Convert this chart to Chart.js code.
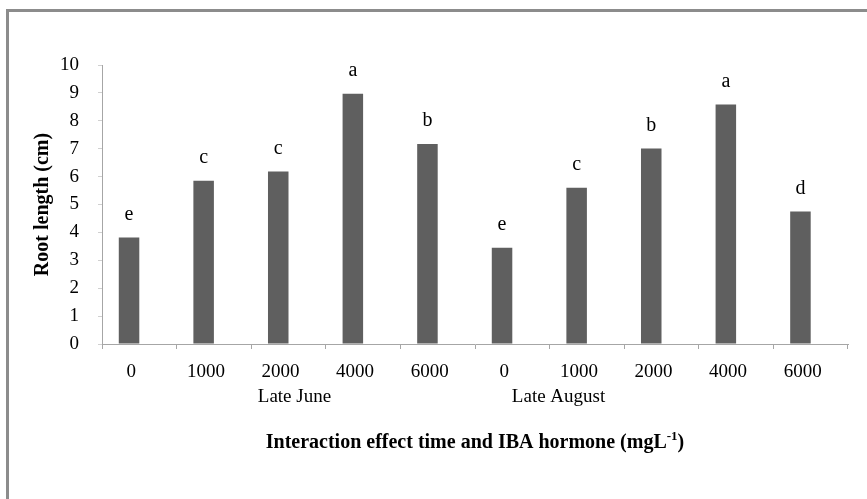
<!DOCTYPE html>
<html>
<head>
<meta charset="utf-8">
<script src="https://cdn.jsdelivr.net/npm/chart.js@4/dist/chart.umd.min.js"></script>
<style>
  html, body { margin: 0; padding: 0; background: #fff; }
  #wrap { width: 867px; height: 499px; }
</style>
</head>
<body>
<div id="wrap"><canvas id="rootChart" width="867" height="499"></canvas></div>
<script>
'use strict';

// data
var doses = ['0', '1000', '2000', '4000', '6000', '0', '1000', '2000', '4000', '6000'];
var rootLength = [3.82, 5.85, 6.18, 8.97, 7.17, 3.45, 5.6, 7.01, 8.58, 4.75];
var letters = ['e', 'c', 'c', 'a', 'b', 'e', 'c', 'b', 'a', 'd'];
var groupLabels = ['Late June', 'Late August'];
var groupLabelAt = [2.08, 5.62];
var yTicks = [0, 1, 2, 3, 4, 5, 6, 7, 8, 9, 10];

var serif = '"Liberation Serif", "Times New Roman", serif';
var axisGray = '#a6a6a6';
var barColor = '#5f5f5f';

//frame, letters over bars, group labels and x title
var extras = {
    id: 'extras',
    beforeDraw: function(chart) {
        var ctx = chart.ctx;
        ctx.save();
        ctx.fillStyle = '#8c8c8c';
        ctx.fillRect(6, 9, 861, 3);
        ctx.fillRect(6, 9, 3, 490);
        ctx.restore();
    },
    afterDraw: function(chart) {
        var ctx = chart.ctx;
        var x = chart.scales.x;
        var meta = chart.getDatasetMeta(0);
        ctx.save();
        ctx.fillStyle = '#000';
        ctx.textAlign = 'center';
        ctx.textBaseline = 'middle';

        ctx.font = '20px ' + serif;
        meta.data.forEach(function(bar, i) {
            ctx.fillText(letters[i], bar.x, bar.y - 23);
        });

        ctx.font = '19px ' + serif;
        groupLabels.forEach(function(lbl, i) {
            ctx.fillText(lbl, x.getPixelForValue(groupLabelAt[i]), 397);
        });

        // x title with superscript
        var main = 'Interaction effect time and IBA hormone (mgL';
        var sup = '-1';
        var end = ')';
        var bold = 'bold 20px ' + serif;
        var small = 'bold 13px ' + serif;
        ctx.font = bold;
        var w1 = ctx.measureText(main).width;
        var w3 = ctx.measureText(end).width;
        ctx.font = small;
        var w2 = ctx.measureText(sup).width;
        var cx = (chart.chartArea.left + chart.chartArea.right) / 2;
        var sx = cx - (w1 + w2 + w3) / 2;
        ctx.textAlign = 'left';
        ctx.textBaseline = 'alphabetic';
        ctx.font = bold;
        ctx.fillText(main, sx, 448);
        ctx.font = small;
        ctx.fillText(sup, sx + w1, 440);
        ctx.font = bold;
        ctx.fillText(end, sx + w1 + w2, 448);
        ctx.restore();
    }
};

var ctx = document.getElementById('rootChart');

var rootChart = new Chart(ctx, {
    type: 'bar',
    data: {
        labels: doses,
        datasets: [
            {
                label: 'Root length',
                backgroundColor: barColor,
                borderWidth: 0,
                data: rootLength
            },
            {
                label: '',
                backgroundColor: barColor,
                data: doses.map(function() { return null; })
            }
        ]
    },
    options: {
        responsive: false,
        animation: false,
        devicePixelRatio: 1,
        categoryPercentage: 0.55,
        barPercentage: 1,
        layout: {
            padding: { left: 0, top: 65, right: 19, bottom: 0 }
        },
        plugins: {
            legend: { display: false },
            tooltip: { enabled: false }
        },
        scales: {
            x: {
                afterFit: function(scale) { scale.height = 155; },
                grid: {
                    drawOnChartArea: false,
                    offset: true,
                    tickLength: 5,
                    color: axisGray
                },
                border: { color: axisGray, width: 1 },
                ticks: {
                    color: '#000',
                    padding: 12,
                    labelOffset: -8,
                    maxRotation: 0,
                    autoSkip: false,
                    font: { family: serif, size: 19 }
                }
            },
            y: {
                min: 0,
                max: 10,
                afterFit: function(scale) { scale.width = 102; },
                afterBuildTicks: function(scale) {
                    scale.ticks = yTicks.map(function(v) { return { value: v }; });
                },
                grid: {
                    drawOnChartArea: false,
                    tickLength: 4,
                    color: '#d0d0d0'
                },
                border: { color: axisGray, width: 1 },
                ticks: {
                    color: '#000',
                    padding: 19,
                    font: { family: serif, size: 19 }
                },
                title: {
                    display: true,
                    text: 'Root length (cm)',
                    color: '#000',
                    padding: { top: 31, bottom: 0 },
                    font: { family: serif, size: 20, weight: 'bold' }
                }
            }
        }
    },
    plugins: [extras]
});
</script>
</body>
</html>
